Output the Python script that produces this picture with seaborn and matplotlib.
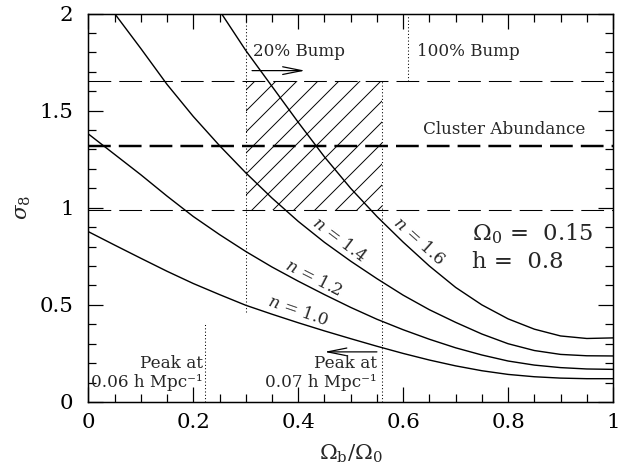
import matplotlib
matplotlib.use('Agg')
import matplotlib.pyplot as plt
import seaborn as sns
import pandas as pd
from matplotlib.ticker import MultipleLocator, FuncFormatter

# sigma_8 vs Omega_b/Omega_0 for different spectral indices n
omega_grid = [0.0, 0.05, 0.1, 0.15, 0.2, 0.25, 0.3, 0.35, 0.4, 0.45, 0.5,
              0.55, 0.6, 0.65, 0.7, 0.75, 0.8, 0.85, 0.9, 0.95, 1.0]
sigma_n10 = [0.877, 0.808, 0.740, 0.673, 0.610, 0.553, 0.498, 0.452, 0.408,
             0.366, 0.326, 0.287, 0.250, 0.216, 0.186, 0.161, 0.142, 0.130,
             0.123, 0.120, 0.120]
sigma_n12 = [1.38, 1.275, 1.17, 1.06, 0.955, 0.862, 0.775, 0.695, 0.622,
             0.553, 0.487, 0.426, 0.372, 0.323, 0.279, 0.242, 0.211, 0.190,
             0.177, 0.170, 0.168]
sigma_n14 = [2.2, 2.0, 1.82, 1.635, 1.47, 1.32, 1.18, 1.05, 0.93, 0.822,
             0.725, 0.635, 0.55, 0.475, 0.41, 0.35, 0.30, 0.265, 0.245,
             0.238, 0.237]
omega_n16 = [0.2, 0.25, 0.3, 0.35, 0.4, 0.45, 0.5, 0.55, 0.6, 0.65, 0.7,
             0.75, 0.8, 0.85, 0.9, 0.95, 1.0]
sigma_n16 = [2.22, 2.015, 1.81, 1.625, 1.44, 1.262, 1.10, 0.955, 0.823,
             0.70, 0.59, 0.50, 0.428, 0.375, 0.34, 0.327, 0.33]

# cluster abundance band and bump limits
cluster_sigma = [0.99, 1.32, 1.65]
box_x = [0.3, 0.56]
peak_x = [0.223, 0.56]

DPI = 126
sns.set_style('ticks')
plt.rcParams['font.family'] = ['DejaVu Serif']
plt.rcParams['mathtext.fontset'] = 'dejavuserif'
plt.rcParams['lines.scale_dashes'] = False
plt.rcParams['hatch.linewidth'] = 0.55

fig = plt.figure(figsize=(626 / DPI, 474 / DPI), dpi=DPI)
ax = fig.add_axes([0.1411, 0.1519, 0.8382, 0.8196])

# curves
frames = [
    pd.DataFrame({'omega': omega_grid, 'sigma': sigma_n10, 'n': '1.0'}),
    pd.DataFrame({'omega': omega_grid, 'sigma': sigma_n12, 'n': '1.2'}),
    pd.DataFrame({'omega': omega_grid, 'sigma': sigma_n14, 'n': '1.4'}),
    pd.DataFrame({'omega': omega_n16, 'sigma': sigma_n16, 'n': '1.6'}),
]
df = pd.concat(frames, ignore_index=True)
sns.lineplot(data=df, x='omega', y='sigma', hue='n', palette=['black'] * 4,
             legend=False, sort=False, estimator=None, linewidth=0.8, ax=ax)

# hatched allowed region
ax.fill_between(box_x, cluster_sigma[0], cluster_sigma[2], facecolor='none',
                edgecolor='black', hatch='//', linewidth=0)

# cluster abundance lines
ax.axhline(cluster_sigma[0], color='black', lw=0.6, dashes=(13, 4.6))
ax.axhline(cluster_sigma[2], color='black', lw=0.6, dashes=(13, 4.6))
ax.axhline(cluster_sigma[1], color='black', lw=1.4, dashes=(13, 4.6))

# dotted limits
dots = (0, (0.6, 1.3))
ax.vlines(box_x[0], 0.465, 2.0, colors='black', lw=0.6, linestyles=dots)
ax.vlines(box_x[1], 0.0, cluster_sigma[2], colors='black', lw=0.6, linestyles=dots)
ax.vlines(0.61, cluster_sigma[2], 2.0, colors='black', lw=0.6, linestyles=dots)
ax.vlines(peak_x[0], 0.0, 0.40, colors='black', lw=0.6, linestyles=dots)

# arrows
arrow = dict(arrowstyle='->,head_length=1.1,head_width=0.22', lw=0.7,
             color='black', shrinkA=0, shrinkB=0, mutation_scale=10)
ax.annotate('', xy=(0.413, 1.706), xytext=(0.312, 1.706), arrowprops=arrow)
ax.annotate('', xy=(0.45, 0.258), xytext=(0.55, 0.258), arrowprops=arrow)

# annotations
fs = 9.6
ax.text(0.314, 1.803, '20% Bump', fontsize=fs, va='center')
ax.text(0.626, 1.803, '100% Bump', fontsize=fs, va='center')
ax.text(0.637, 1.404, 'Cluster Abundance', fontsize=fs, va='center')
ax.text(0.219, 0.148, 'Peak at\n0.06 h Mpc\u207b\u00b9', fontsize=fs,
        ha='right', va='center', multialignment='right', linespacing=1.15)
ax.text(0.55, 0.148, 'Peak at\n0.07 h Mpc\u207b\u00b9', fontsize=fs,
        ha='right', va='center', multialignment='right', linespacing=1.15)
ax.text(0.731, 0.834, r'$\Omega_0$ =  0.15', fontsize=13, va='baseline')
ax.text(0.731, 0.688, 'h =  0.8', fontsize=13, va='baseline')

ax.text(0.629, 0.829, r'$n$ = 1.6', fontsize=fs, rotation=-42,
        ha='center', va='center', rotation_mode='anchor')
ax.text(0.478, 0.834, r'$n$ = 1.4', fontsize=fs, rotation=-37,
        ha='center', va='center', rotation_mode='anchor')
ax.text(0.429, 0.636, r'$n$ = 1.2', fontsize=fs, rotation=-27,
        ha='center', va='center', rotation_mode='anchor')
ax.text(0.40, 0.469, r'$n$ = 1.0', fontsize=fs, rotation=-19,
        ha='center', va='center', rotation_mode='anchor')

ax.set_xlim(0, 1)
ax.set_ylim(0, 2)
ax.xaxis.set_major_locator(MultipleLocator(0.2))
ax.xaxis.set_minor_locator(MultipleLocator(0.05))
ax.yaxis.set_major_locator(MultipleLocator(0.5))
ax.yaxis.set_minor_locator(MultipleLocator(0.1))
fmt = FuncFormatter(lambda v, p: f'{v:g}')
ax.xaxis.set_major_formatter(fmt)
ax.yaxis.set_major_formatter(fmt)
ax.tick_params(which='both', direction='in', top=True, right=True,
               width=0.7, colors='black')
ax.tick_params(which='major', length=8.5, labelsize=12.2)
ax.tick_params(which='minor', length=4.3)
ax.tick_params(axis='x', which='major', pad=6.5)
ax.tick_params(axis='y', which='major', pad=8.5)
for sp in ax.spines.values():
    sp.set_linewidth(0.85)
    sp.set_color('black')

ax.set_xlabel(r'$\Omega_\mathrm{b}/\Omega_0$', fontsize=12.2, labelpad=6)
ax.set_ylabel(r'$\sigma_8$', fontsize=12.2, labelpad=4)

fig.savefig('out.png', dpi=DPI)
